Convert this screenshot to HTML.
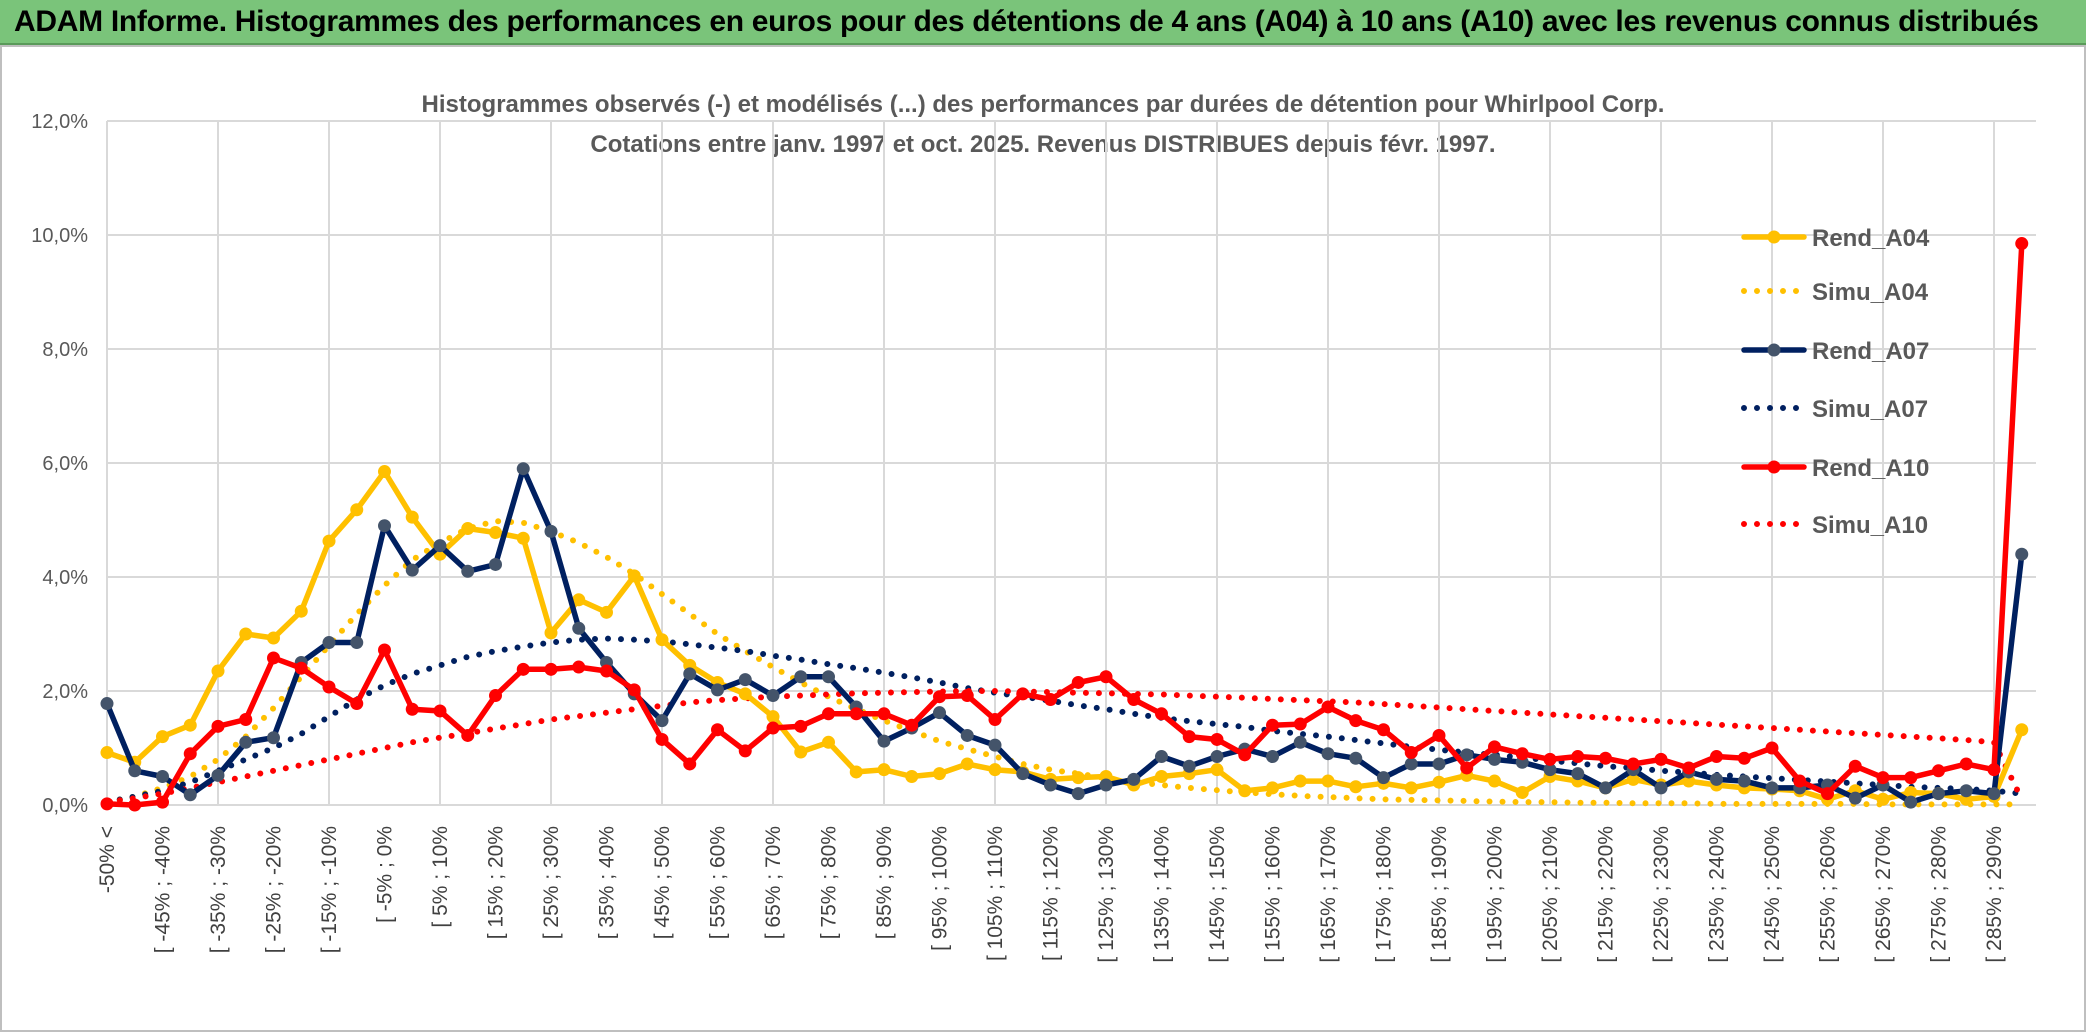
<!DOCTYPE html>
<html><head><meta charset="utf-8"><style>
html,body{margin:0;padding:0;background:#fff;}
body{width:2086px;height:1033px;overflow:hidden;position:relative;font-family:"Liberation Sans",sans-serif;}
#banner{position:absolute;left:0;top:0;width:2086px;height:43px;background:#7ac47a;border-bottom:2px solid #5a9a5a;}
#banner span{position:absolute;left:14px;top:5px;font-size:30px;font-weight:bold;color:#000;white-space:nowrap;letter-spacing:-0.3px;}
svg{position:absolute;left:0;top:0;}
</style></head><body>
<div id="banner"><span>ADAM Informe. Histogrammes des performances en euros pour des détentions de 4 ans (A04) à 10 ans (A10) avec les revenus connus distribués</span></div>
<svg id="chart" width="2086" height="1033">
<rect x="1" y="46" width="2084" height="985" fill="none" stroke="#bfbfbf" stroke-width="2"/>
<text x="1043" y="112" text-anchor="middle" font-size="24" font-weight="bold" fill="#595959">Histogrammes observés (-) et modélisés (...) des performances par durées de détention pour Whirlpool Corp.</text>
<text x="1043" y="152" text-anchor="middle" font-size="24" font-weight="bold" fill="#595959">Cotations entre janv. 1997 et oct. 2025. Revenus DISTRIBUES depuis févr. 1997.</text>
<g id="grid"></g><g id="series"></g><g id="axes"></g><g id="legend"></g>
</svg>
<script>
const yTicks=[0,2,4,6,8,10,12];
const rendA04=[0.92,0.75,1.2,1.4,2.35,3.0,2.93,3.4,4.63,5.18,5.85,5.05,4.4,4.85,4.78,4.68,3.02,3.6,3.38,4.02,2.9,2.45,2.15,1.95,1.55,0.93,1.1,0.58,0.62,0.5,0.55,0.72,0.62,0.58,0.45,0.48,0.5,0.35,0.5,0.55,0.62,0.25,0.3,0.42,0.42,0.32,0.38,0.3,0.4,0.52,0.42,0.22,0.5,0.42,0.3,0.45,0.35,0.42,0.35,0.3,0.28,0.25,0.1,0.25,0.1,0.22,0.2,0.1,0.15,1.32];
const rendA07=[1.78,0.6,0.5,0.18,0.52,1.1,1.18,2.5,2.85,2.85,4.9,4.12,4.55,4.1,4.22,5.9,4.8,3.1,2.5,1.95,1.48,2.3,2.02,2.2,1.92,2.25,2.25,1.72,1.12,1.35,1.62,1.22,1.05,0.55,0.35,0.2,0.35,0.45,0.85,0.68,0.85,0.98,0.85,1.1,0.9,0.82,0.48,0.72,0.72,0.88,0.8,0.75,0.62,0.55,0.3,0.62,0.3,0.58,0.45,0.42,0.3,0.3,0.35,0.12,0.35,0.05,0.2,0.25,0.2,4.4];
const rendA10=[0.02,0.0,0.05,0.9,1.38,1.5,2.58,2.4,2.07,1.78,2.72,1.68,1.65,1.22,1.92,2.38,2.38,2.42,2.35,2.02,1.15,0.72,1.32,0.95,1.35,1.38,1.6,1.6,1.6,1.4,1.9,1.92,1.5,1.95,1.85,2.15,2.25,1.85,1.6,1.2,1.15,0.88,1.4,1.42,1.72,1.48,1.32,0.92,1.22,0.65,1.02,0.9,0.8,0.85,0.82,0.72,0.8,0.65,0.85,0.82,1.0,0.42,0.2,0.68,0.48,0.48,0.6,0.72,0.62,9.85];
const simuA04=[0.05,0.15,0.3,0.5,0.8,1.2,1.7,2.25,2.8,3.35,3.85,4.3,4.6,4.85,4.98,4.95,4.8,4.6,4.35,4.05,3.7,3.35,3.0,2.7,2.42,2.15,1.9,1.68,1.48,1.3,1.12,0.98,0.85,0.72,0.62,0.55,0.47,0.4,0.35,0.3,0.26,0.22,0.19,0.16,0.14,0.12,0.1,0.09,0.08,0.07,0.06,0.05,0.05,0.04,0.04,0.03,0.03,0.03,0.02,0.02,0.02,0.02,0.02,0.02,0.01,0.01,0.01,0.01,0.01,0.01];
const simuA07=[0.05,0.15,0.25,0.4,0.6,0.8,1.0,1.25,1.55,1.85,2.1,2.3,2.45,2.6,2.7,2.78,2.85,2.9,2.92,2.9,2.87,2.82,2.76,2.7,2.62,2.55,2.47,2.4,2.32,2.24,2.15,2.05,1.97,1.9,1.83,1.75,1.68,1.6,1.53,1.47,1.42,1.37,1.3,1.25,1.2,1.14,1.08,1.02,0.97,0.92,0.88,0.83,0.78,0.73,0.68,0.65,0.6,0.57,0.53,0.5,0.47,0.44,0.41,0.38,0.35,0.32,0.3,0.28,0.25,0.2];
const simuA10=[0.05,0.12,0.2,0.3,0.4,0.5,0.6,0.7,0.8,0.9,1.0,1.1,1.18,1.26,1.34,1.42,1.5,1.56,1.62,1.68,1.74,1.8,1.84,1.87,1.9,1.92,1.94,1.96,1.97,1.98,1.99,2.0,2.0,1.99,1.98,1.97,1.96,1.95,1.94,1.92,1.9,1.88,1.86,1.84,1.82,1.8,1.77,1.74,1.71,1.68,1.65,1.62,1.59,1.56,1.53,1.5,1.47,1.44,1.41,1.38,1.35,1.32,1.29,1.26,1.23,1.2,1.17,1.14,1.1,0.1];
const categories=["-50% <"];
for(let i=1;i<=68;i++){categories.push("[ "+(-55+5*i)+"% ; "+(-50+5*i)+"%");}
categories.push("290% >");
const NS="http://www.w3.org/2000/svg";
const X0=107,STEP=27.75,Y0=805,PPU=57;
function xs(i){return X0+i*STEP;}
function ys(v){return Y0-v*PPU;}
function mk(tag,attrs,parent){const e=document.createElementNS(NS,tag);for(const k in attrs)e.setAttribute(k,attrs[k]);parent.appendChild(e);return e;}
const grid=document.getElementById('grid'),ser=document.getElementById('series'),ax=document.getElementById('axes'),leg=document.getElementById('legend');
const n=categories.length;
yTicks.forEach(t=>{
 const l=mk('line',{x1:X0,x2:2036,y1:ys(t),y2:ys(t),stroke:'#d9d9d9','stroke-width':2},grid);
 
 
 const tx=mk('text',{x:88,y:ys(t)+7,'text-anchor':'end','font-size':20,fill:'#595959'},ax);
 tx.textContent=t.toFixed(1).replace('.',',')+'%';
 
 
});
for(let i=0;i<n;i+=4){
 const l=mk('line',{x1:xs(i),x2:xs(i),y1:ys(12),y2:ys(0),stroke:'#d9d9d9','stroke-width':2},grid);
 
 
}
for(let i=0;i<n;i+=2){
 const t=mk('text',{x:0,y:0,'text-anchor':'end','font-size':21,fill:'#404040',transform:`translate(${xs(i)+7},826) rotate(-90)`},ax);
 t.textContent=categories[i];
 
 
}
function path(arr){return arr.map((v,i)=>(i?'L':'M')+xs(i).toFixed(1)+' '+ys(v).toFixed(1)).join(' ');}
const series=[
 {name:'Simu_A04',data:simuA04,color:'#FFC000',dotted:true},
 {name:'Simu_A07',data:simuA07,color:'#002060',dotted:true},
 {name:'Simu_A10',data:simuA10,color:'#FF0000',dotted:true},
 {name:'Rend_A04',data:rendA04,color:'#FFC000',mcolor:'#FFC000'},
 {name:'Rend_A07',data:rendA07,color:'#002060',mcolor:'#44546A'},
 {name:'Rend_A10',data:rendA10,color:'#FF0000',mcolor:'#FF0000'}
];
series.forEach(s=>{
 const g=mk('g',{},ser);
 
 
 const p=mk('path',{d:path(s.data),fill:'none',stroke:s.color,'stroke-width':s.dotted?6:5.5,'stroke-linejoin':'round','stroke-linecap':'round'},g);
 if(s.dotted)p.setAttribute('stroke-dasharray','0 13');
 
 
 if(!s.dotted){s.data.forEach((v,i)=>{
  const c=mk('circle',{cx:xs(i),cy:ys(v),r:6.5,fill:s.mcolor},g);
  
  
 });}
});
const legOrder=['Rend_A04','Simu_A04','Rend_A07','Simu_A07','Rend_A10','Simu_A10'];
const legY=[237,291,350,408,467,524];
legOrder.forEach((nm,k)=>{
 const s=series.find(z=>z.name===nm);
 const g=mk('g',{},leg);
 
 
 const l=mk('line',{x1:1744,x2:1804,y1:legY[k],y2:legY[k],stroke:s.color,'stroke-width':s.dotted?6:5.5,'stroke-linecap':'round'},g);
 if(s.dotted)l.setAttribute('stroke-dasharray','0 13');
 if(!s.dotted){const c=mk('circle',{cx:1774,cy:legY[k],r:6.5,fill:s.mcolor},g);}
 const t=mk('text',{x:1812,y:legY[k]+9,'font-size':24,'font-weight':'bold',fill:'#595959'},g);
 t.textContent=nm;
});
</script>
</body></html>
